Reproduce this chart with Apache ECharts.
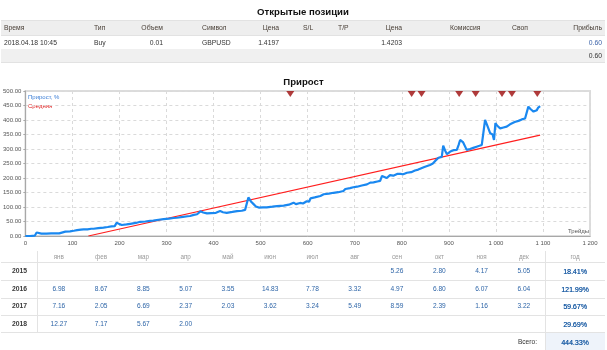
<!DOCTYPE html>
<html>
<head>
<meta charset="utf-8">
<script src="https://cdn.jsdelivr.net/npm/echarts@6/dist/echarts.min.js"></script>
<style>
  html, body { margin: 0; padding: 0; }
  body { width: 607px; height: 350px; overflow: hidden; background: #fff; position: relative;
         font-family: "Liberation Sans", Arial, sans-serif; }
  #chart { position: absolute; left: 0; top: 0; width: 607px; height: 350px; }
  #overlay { position: absolute; left: 0; top: 0; width: 607px; height: 350px; pointer-events: none; }
  .t { position: absolute; white-space: nowrap; line-height: 1; }
  .box { position: absolute; }
</style>
</head>
<body>
<div id="chart"></div>
<div id="overlay"></div>
<script>
// ---- open positions ----
const positionTitle = 'Открытые позиции';
const positionHeaders = ['Время', 'Тип', 'Объем', 'Символ', 'Цена', 'S/L', 'T/P', 'Цена', 'Комиссия', 'Своп', 'Прибыль'];
const positionRow = ['2018.04.18 10:45', 'Buy', '0.01', 'GBPUSD', '1.4197', '', '', '1.4203', '', '', '0.60'];
const positionTotal = '0.60';

// ---- growth curve ----
const chartTitle = 'Прирост';
const trades = [0, 10, 20, 24, 28, 34, 45, 55, 65, 72, 75, 85, 95, 103, 110, 118, 124, 132, 140, 145,
  155, 166, 175, 183, 190, 194, 200, 205, 215, 223, 235, 244, 255, 265, 272, 283, 294, 305, 315, 322,
  335, 345, 350, 358, 365, 372, 378, 386, 395, 405, 414, 420, 428, 440, 450, 460, 467, 470, 474, 480,
  485, 490, 496, 505, 513, 525, 535, 549, 560, 570, 575, 584, 590, 598, 603, 606, 615, 627, 634, 645,
  655, 665, 676, 680, 690, 697, 705, 715, 726, 733, 740, 748, 754, 758, 762, 768, 775, 782, 790, 797,
  803, 811, 820, 828, 835, 839, 848, 860, 866, 871, 875, 878, 882, 885, 888, 892, 896, 903, 910, 917,
  921, 924, 930, 938, 945, 952, 959, 965, 970, 977, 982, 988, 993, 996, 999, 1003, 1009, 1016, 1023, 1030,
  1034, 1040, 1048, 1055, 1062, 1066, 1069, 1074, 1080, 1087, 1090, 1094];
const growth = [0, 0, 1, 12, 11, 8, 8, 9, 9, 9, 14, 15, 16, 18, 20, 22, 23, 23, 25, 25,
  27, 29, 31, 33, 34, 46, 41, 38, 40, 42, 45, 49, 50, 52, 53, 56, 58, 60, 62, 63,
  66, 68, 69, 73, 75, 85, 81, 78, 79, 80, 86, 82, 80, 83, 86, 87, 90, 88, 133, 118,
  110, 102, 98, 99, 99, 101, 103, 105, 108, 115, 110, 114, 112, 120, 118, 130, 133, 138, 144, 146,
  149, 151, 155, 162, 165, 168, 170, 174, 178, 184, 185, 188, 190, 207, 203, 200, 210, 208, 214, 214,
  213, 218, 220, 226, 229, 231, 238, 245, 250, 259, 262, 270, 266, 273, 312, 295, 282, 291, 296, 297,
  315, 331, 324, 297, 300, 304, 308, 311, 314, 400, 380, 354, 350, 331, 389, 380, 371, 374, 377, 385,
  389, 393, 397, 402, 405, 409, 446, 437, 429, 434, 443, 448];
const averageTrades = [134, 1094];
const averageValues = [0, 348];
const markerTrades = [563, 821, 842, 922, 957, 1013, 1034, 1088];
const legendGrowth = 'Прирост, %';
const legendAverage = 'Средняя';
const xAxisName = 'Трейды';

// ---- monthly returns ----
const monthNames = ['янв', 'фев', 'мар', 'апр', 'май', 'июн', 'июл', 'авг', 'сен', 'окт', 'ноя', 'дек'];
const yearColumn = 'год';
const years = ['2015', '2016', '2017', '2018'];
const monthly2015 = [null, null, null, null, null, null, null, null, 5.26, 2.80, 4.17, 5.05];
const monthly2016 = [6.98, 8.67, 8.85, 5.07, 3.55, 14.83, 7.78, 3.32, 4.97, 6.80, 6.07, 6.04];
const monthly2017 = [7.16, 2.05, 6.69, 2.37, 2.03, 3.62, 3.24, 5.49, 8.59, 2.39, 1.16, 3.22];
const monthly2018 = [12.27, 7.17, 5.67, 2.00, null, null, null, null, null, null, null, null];
const yearTotals = [18.41, 121.99, 59.67, 29.69];
const totalLabel = 'Всего:';
const grandTotal = 444.33;

// ---------- HTML tables ----------
const ov = document.getElementById('overlay');
function box(x, y, w, h, bg) {
  const d = document.createElement('div');
  d.className = 'box';
  Object.assign(d.style, { left: x + 'px', top: y + 'px', width: w + 'px', height: h + 'px', background: bg });
  ov.appendChild(d);
}
function text(str, x, y, align, style) {
  const s = document.createElement('div');
  s.className = 't';
  s.textContent = str;
  const tx = align === 'right' ? '-100%' : align === 'center' ? '-50%' : '0';
  s.style.left = x + 'px';
  s.style.top = y + 'px';
  s.style.transform = 'translate(' + tx + ',-50%)';
  Object.assign(s.style, style || {});
  ov.appendChild(s);
}

// open positions block
text(positionTitle, 303, 11.5, 'center', { fontSize: '9.6px', fontWeight: 'bold', color: '#111' });
box(1, 20, 604, 15, '#eeeeee');
box(1, 20, 604, 1, '#e2e2e2');
box(1, 35, 604, 1, '#e2e2e2');
box(1, 49, 604, 14, '#f0f0f0');
box(1, 62, 604, 1, '#e2e2e2');
const colX = [4, 94, 163, 202, 279, 303, 338, 402, 450, 512, 602];
const colAlign = ['left', 'left', 'right', 'left', 'right', 'left', 'left', 'right', 'left', 'left', 'right'];
positionHeaders.forEach((h, i) => text(h, colX[i], 28, colAlign[i], { fontSize: '6.8px', color: '#4a4038' }));
positionRow.forEach((v, i) => {
  if (!v) return;
  text(v, colX[i], 42.7, colAlign[i], { fontSize: '6.8px', color: i === 10 ? '#3b62a8' : '#333' });
});
text(positionTotal, 602, 56, 'right', { fontSize: '6.8px', color: '#333' });

// monthly returns block
const colW = (545 - 37.7) / 12;
const rowY = [271, 288.7, 306.3, 324];
const lineYs = [262.3, 280, 297.7, 315, 332.3];
box(545, 332.3, 60, 18, '#eef3fa');
lineYs.forEach(y => box(1, Math.round(y), 604, 1, '#e3e3e3'));
box(37, 251, 1, 82, '#e3e3e3');
box(545, 251, 1, 99, '#e3e3e3');
monthNames.forEach((m, i) => text(m, 37.7 + colW * (i + 0.5), 257.3, 'center', { fontSize: '6.3px', color: '#9a9a9a' }));
text(yearColumn, 575, 257.3, 'center', { fontSize: '6.3px', color: '#9a9a9a' });
const monthly = [monthly2015, monthly2016, monthly2017, monthly2018];
years.forEach((yr, r) => {
  text(yr, 19.5, rowY[r], 'center', { fontSize: '6.8px', fontWeight: 'bold', color: '#3a3a3a' });
  monthly[r].forEach((v, i) => {
    if (v == null) return;
    text(v.toFixed(2), 37.7 + colW * (i + 0.5), rowY[r], 'center', { fontSize: '6.6px', color: '#2f66a8' });
  });
  text(yearTotals[r].toFixed(2) + '%', 575, rowY[r], 'center', { fontSize: '7px', color: '#1f5fa6', textShadow: '0.25px 0 0 #1f5fa6' });
});
text(totalLabel, 537, 341.5, 'right', { fontSize: '6.6px', color: '#333' });
text(grandTotal.toFixed(2) + '%', 575, 341.5, 'center', { fontSize: '7px', color: '#1f5fa6', textShadow: '0.25px 0 0 #1f5fa6' });

// ---------- growth chart ----------
const chart = echarts.init(document.getElementById('chart'), null, { renderer: 'canvas' });
const labelFont = { fontFamily: 'Liberation Sans', fontSize: 6, color: '#555' };
function spaced(v) { return String(v).replace(/\B(?=(\d{3})+$)/g, ' '); }

chart.setOption({
  animation: false,
  title: {
    text: chartTitle, left: 'center', top: 77, padding: 0,
    textStyle: { fontFamily: 'Liberation Sans', fontSize: 9.6, fontWeight: 'bold', color: '#111' }
  },
  grid: { left: 25, right: 17, top: 91, bottom: 114, show: true, borderColor: '#dcdcdc', borderWidth: 2 },
  xAxis: {
    type: 'value', min: 0, max: 1200, interval: 100,
    axisLine: { show: true, lineStyle: { color: '#a8a8a8' } },
    axisTick: { show: false },
    axisLabel: Object.assign({ margin: 4, formatter: v => spaced(v) }, labelFont),
    splitLine: { show: true, lineStyle: { color: '#dadada', type: [3, 3] } }
  },
  yAxis: {
    type: 'value', min: 0, max: 500, interval: 50,
    axisLine: { show: true, lineStyle: { color: '#a8a8a8' } },
    axisTick: { show: true, length: 2, lineStyle: { color: '#a8a8a8' } },
    axisLabel: Object.assign({ margin: 4, formatter: v => v.toFixed(2) }, labelFont),
    splitLine: { show: true, lineStyle: { color: '#dadada', type: [3, 3] } }
  },
  graphic: [
    { type: 'text', left: 28, top: 94, style: { text: legendGrowth, font: '6px "Liberation Sans"', fill: '#3d7fd6' } },
    { type: 'text', left: 28, top: 103, style: { text: legendAverage, font: '6px "Liberation Sans"', fill: '#e02424' } },
    { type: 'text', left: 568, top: 228, style: { text: xAxisName, font: '6px "Liberation Sans"', fill: '#555' } }
  ],
  series: [
    {
      name: legendAverage, type: 'line', showSymbol: false, z: 2,
      data: averageTrades.map((t, i) => [t, averageValues[i]]),
      lineStyle: { color: '#ff1e1e', width: 1.2 }
    },
    {
      name: legendGrowth, type: 'line', showSymbol: false, z: 3,
      data: trades.map((t, i) => [t, growth[i]]),
      lineStyle: { color: '#1a88f0', width: 2.2 }
    },
    {
      type: 'scatter', z: 4, clip: false,
      symbol: 'triangle', symbolRotate: 180, symbolSize: [8, 6], symbolOffset: [0, 3],
      itemStyle: { color: '#9c0a0a' },
      data: markerTrades.map(t => [t, 500])
    }
  ]
});
</script>
</body>
</html>
